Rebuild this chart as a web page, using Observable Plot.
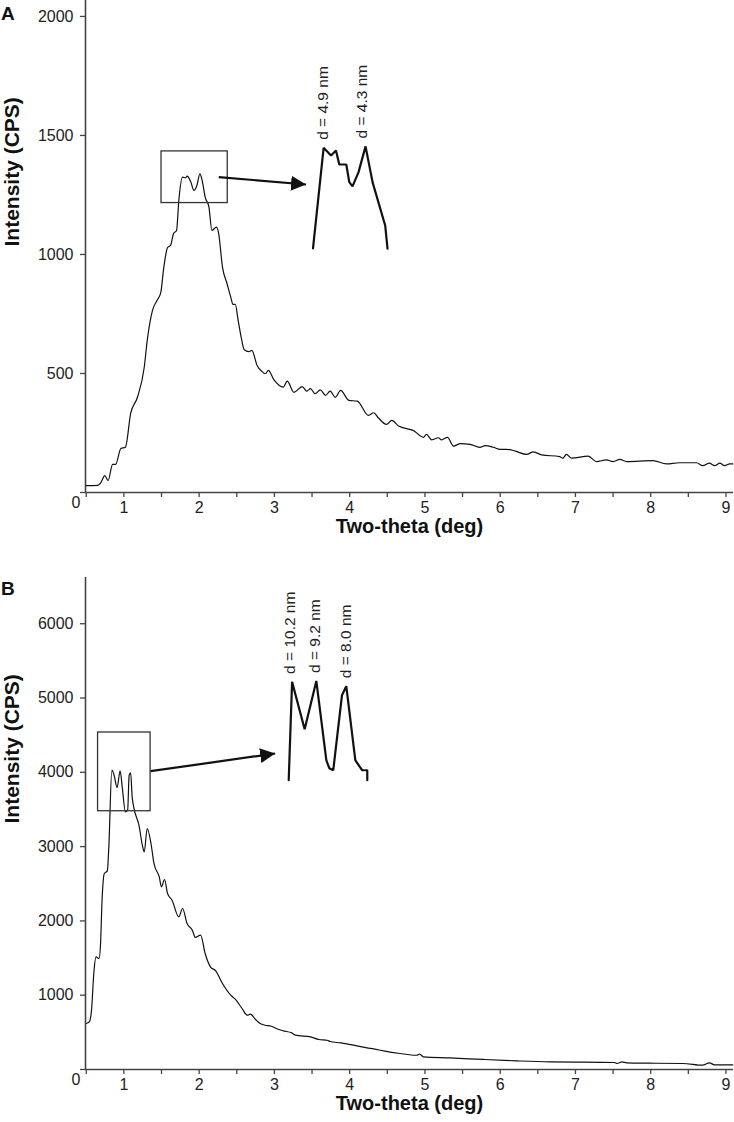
<!DOCTYPE html>
<html><head><meta charset="utf-8">
<script src="https://cdn.jsdelivr.net/npm/d3@7"></script>
<script src="https://cdn.jsdelivr.net/npm/@observablehq/plot@0.6"></script>
<style>
body{margin:0;background:#fff;font-family:"Liberation Sans",Arial,sans-serif;}
#wrap{position:relative;width:734px;height:1122px;overflow:hidden;}
.panel{position:absolute;left:0;}
.letter{position:absolute;left:1px;font-weight:bold;font-size:19px;line-height:1;color:#111;}
</style></head><body>
<div id="wrap">
  <div class="panel" id="pa" style="top:0px"></div>
  <div class="panel" id="pb" style="top:550px"></div>
  <div class="letter" style="top:4px">A</div>
  <div class="letter" style="top:579px">B</div>
</div>
<script>
// ---------- shared axis values ----------
const xDomain = [0.49, 9.1];
const xMajor = [1, 2, 3, 4, 5, 6, 7, 8, 9];
const xMinor = [0.5, 1.5, 2.5, 3.5, 4.5, 5.5, 6.5, 7.5, 8.5];
const xTitle = "Two-theta (deg)";
const yTitle = "Intensity (CPS)";
const zeroLabel = ["0"];

// ---------- panel A ----------
const aTop = 2067;
const aYTicks = [0, 500, 1000, 1500, 2000];
const aX = [0.50,0.65,0.70,0.745,0.79,0.85,0.89,0.96,1.02,1.09,1.18,1.27,1.31,1.38,1.44,1.49,1.53,1.58,1.62,1.66,1.70,1.73,1.78,1.82,1.84,1.89,1.93,1.97,2.01,2.04,2.08,2.13,2.17,2.23,2.26,2.31,2.37,2.42,2.45,2.48,2.52,2.56,2.60,2.66,2.70,2.77,2.83,2.88,2.92,2.99,3.12,3.17,3.26,3.37,3.43,3.48,3.54,3.61,3.68,3.74,3.81,3.88,3.99,4.10,4.25,4.32,4.38,4.49,4.56,4.65,4.85,4.98,5.02,5.09,5.18,5.22,5.30,5.38,5.47,5.60,5.73,5.80,5.91,6.00,6.09,6.20,6.35,6.44,6.55,6.79,6.83,6.88,6.95,7.17,7.28,7.41,7.50,7.59,7.68,8.03,8.21,8.38,8.61,8.69,8.78,8.85,8.92,8.98,9.05,9.09];
const aY = [29,30,45,71,50,118,118,185,190,332,400,525,638,765,807,840,945,1029,1038,1088,1101,1227,1325,1322,1329,1304,1269,1290,1339,1311,1241,1199,1101,1115,1087,947,878,821,790,790,720,650,600,592,597,534,510,499,513,475,443,468,421,445,426,436,415,431,408,426,400,429,387,384,324,335,314,286,303,279,260,232,244,221,230,221,232,195,205,202,190,197,190,181,181,174,160,171,158,151,144,160,144,153,130,137,130,139,130,134,120,125,125,113,123,113,123,113,120,120];
const aBox = [{x1: 1.50, x2: 2.38, y1: 1216, y2: 1433}];
const aArrow = [{x1: 2.26, y1: 1325, x2: 3.42, y2: 1294}];
const aInsetX = [3.513,3.654,3.752,3.818,3.862,3.955,3.995,4.038,4.118,4.211,4.304,4.472,4.503];
const aInsetY = [1026,1448,1416,1437,1378,1378,1304,1286,1346,1454,1304,1122,1024];
const aLabels = [
  {x: 3.64, y: 1448, text: "d = 4.9 nm"},
  {x: 4.17, y: 1454, text: "d = 4.3 nm"}
];

// ---------- panel B ----------
const bTop = 6622;
const bYTicks = [0, 1000, 2000, 3000, 4000, 5000, 6000];
const bX = [0.50,0.54,0.57,0.60,0.63,0.67,0.69,0.71,0.74,0.78,0.80,0.84,0.87,0.91,0.95,0.98,1.02,1.05,1.07,1.09,1.11,1.13,1.20,1.25,1.27,1.31,1.36,1.40,1.47,1.50,1.54,1.58,1.64,1.73,1.78,1.84,1.91,1.95,2.02,2.08,2.15,2.22,2.31,2.42,2.48,2.57,2.64,2.68,2.75,2.81,2.88,2.95,3.06,3.12,3.23,3.28,3.48,3.59,3.70,3.74,3.88,4.01,4.23,4.32,4.45,4.67,4.89,4.93,4.98,5.33,5.78,6.22,6.66,7.10,7.52,7.55,7.62,7.68,7.99,8.43,8.69,8.78,8.85,9.09];
const bY = [619,641,798,1292,1516,1494,1696,2279,2638,2673,2996,4029,3961,3795,4019,3782,3467,3490,3961,3992,3669,3534,3288,2996,2929,3244,3042,2773,2592,2458,2557,2369,2279,2054,2167,1965,1875,1777,1808,1561,1381,1327,1157,1000,946,821,731,744,673,619,596,585,538,520,493,462,439,404,394,377,358,336,291,277,250,215,192,206,170,156,135,116,102,98,94,81,102,89,85,81,58,89,62,62];
const bBox = [{x1: 0.657, x2: 1.355, y1: 3476, y2: 4536}];
const bArrow = [{x1: 1.355, y1: 4015, x2: 3.01, y2: 4253}];
const bInsetX = [3.190,3.235,3.402,3.557,3.690,3.729,3.782,3.898,3.955,4.075,4.128,4.167,4.234,4.234];
const bInsetY = [3894,5217,4580,5230,4163,4055,4028,5038,5159,4163,4082,4028,4028,3894];
const bLabels = [
  {x: 3.212, y: 5217, text: "d = 10.2 nm"},
  {x: 3.535, y: 5230, text: "d = 9.2 nm"},
  {x: 3.956, y: 5159, text: "d = 8.0 nm"}
];

// ---------- drawing ----------
function filledHead(color) {
  const m = d3.create("svg:marker")
    .attr("viewBox", "0 -5 10 10")
    .attr("refX", 10).attr("refY", 0)
    .attr("markerUnits", "userSpaceOnUse")
    .attr("markerWidth", 15).attr("markerHeight", 15)
    .attr("preserveAspectRatio", "none")
    .attr("orient", "auto");
  m.append("path").attr("d", "M0,-5L10,0L0,5Z").attr("fill", color).attr("stroke", "none");
  return m.node();
}

function zip(xs, ys) { return xs.map((x, i) => ({x, y: ys[i]})); }

function panel(cfg, marker) {
  const fmt = d3.format("d");
  return Plot.plot({
    width: 734, height: cfg.height,
    marginLeft: 85, marginRight: 1, marginTop: cfg.marginTop, marginBottom: cfg.marginBottom,
    style: {fontFamily: "'Liberation Sans', Arial, sans-serif", color: "#222", background: "white", overflow: "visible"},
    x: {domain: xDomain},
    y: {domain: [0, cfg.top]},
    marks: [
      Plot.axisX(xMajor, {tickSize: 5, tickPadding: 4, fontSize: 16, stroke: "#444", strokeWidth: 1.3, label: null}),
      Plot.axisX(xMinor, {tickSize: 5, tickFormat: () => "", stroke: "#444", strokeWidth: 1.3, label: null}),
      Plot.axisY(cfg.yTicks, {tickSize: 5, tickPadding: 7, fontSize: 16, stroke: "#444", strokeWidth: 1.3, label: null,
        tickFormat: d => d === 0 ? "" : fmt(d)}),
      Plot.ruleY([0], {stroke: "#444", strokeWidth: 1.6}),
      Plot.ruleX([xDomain[0]], {stroke: "#444", strokeWidth: 1.6}),
      Plot.text(zeroLabel, {x: xDomain[0], y: 0, text: d => d, textAnchor: "end", dx: -5, dy: 10, fontSize: 16}),
      Plot.text([xTitle], {frameAnchor: "bottom", dy: 40, fontSize: 20, fontWeight: "bold", fill: "#111"}),
      Plot.text([yTitle], {frameAnchor: "left", rotate: -90, dx: -73, fontSize: 21, fontWeight: "bold", fill: "#111"}),
      Plot.line(cfg.curve, {x: "x", y: "y", stroke: "#111", strokeWidth: 1.2, curve: "monotone-x"}),
      Plot.rect(cfg.box, {x1: "x1", x2: "x2", y1: "y1", y2: "y2", fill: "none", stroke: "#333", strokeWidth: 1.3}),
      Plot.link(cfg.arrow, {x1: "x1", y1: "y1", x2: "x2", y2: "y2", stroke: "#111", strokeWidth: 2.2, markerEnd: marker}),
      Plot.line(cfg.inset, {x: "x", y: "y", stroke: "#111", strokeWidth: 2.2, strokeLinejoin: "miter"}),
      Plot.text(cfg.labels, {x: "x", y: "y", text: "text", rotate: -90, textAnchor: "start", dy: -8, fontSize: 15.5, fill: "#222"})
    ]
  });
}

const cfgA = {height: 550, marginTop: 0, marginBottom: 58, top: aTop, yTicks: aYTicks,
  curve: zip(aX, aY), box: aBox, arrow: aArrow, inset: zip(aInsetX, aInsetY), labels: aLabels};
const cfgB = {height: 572, marginTop: 27, marginBottom: 53, top: bTop, yTicks: bYTicks,
  curve: zip(bX, bY), box: bBox, arrow: bArrow, inset: zip(bInsetX, bInsetY), labels: bLabels};

function render(cfg) {
  try { return panel(cfg, filledHead); }
  catch (e) { return panel(cfg, "arrow"); }
}
document.getElementById("pa").appendChild(render(cfgA));
document.getElementById("pb").appendChild(render(cfgB));
</script>
</body></html>
